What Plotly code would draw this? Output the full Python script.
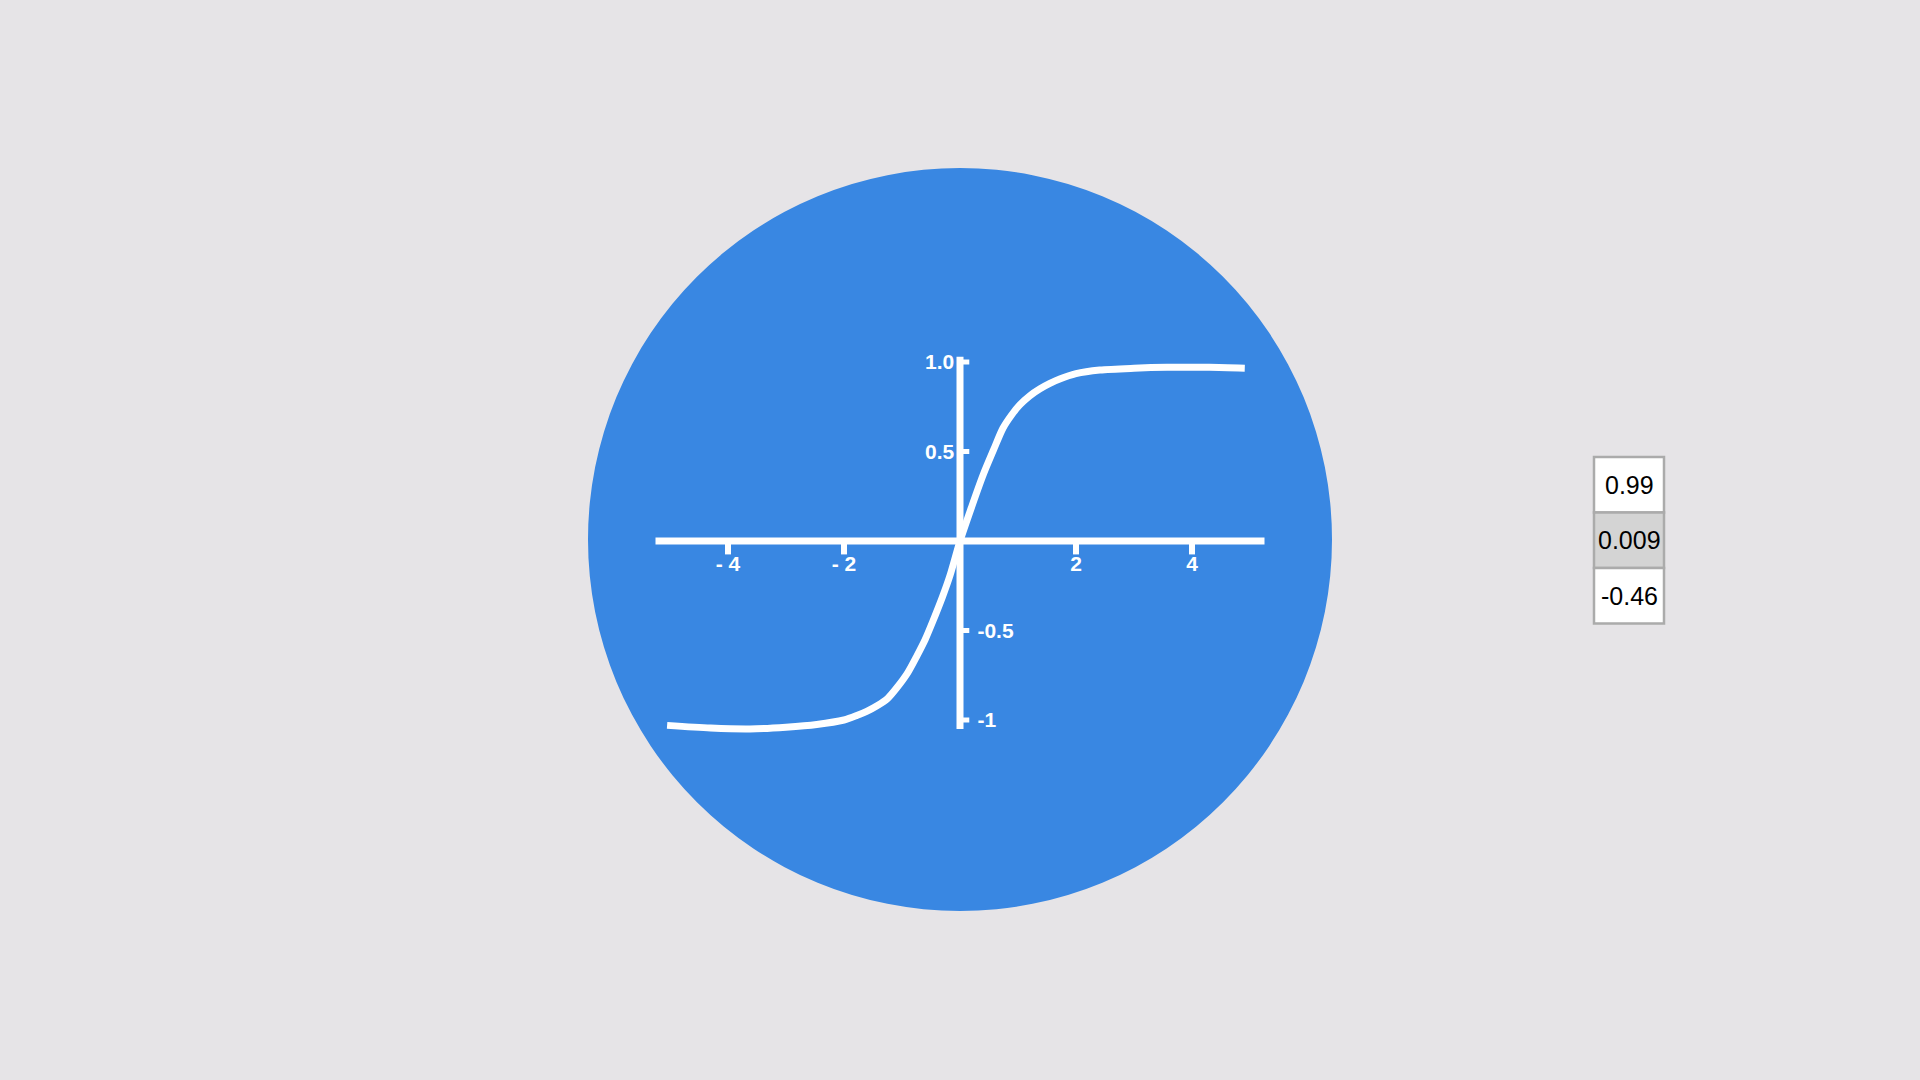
import plotly.graph_objects as go

# curve points
curve_x = [-5.05, -4.3, -3.62, -3.0, -2.47, -2.0, -1.78, -1.6, -1.43, -1.25, -1.09, -0.9,
           -0.74, -0.6, -0.47, -0.3, -0.17, 0.0, 0.2, 0.4, 0.58, 0.74, 0.88, 1.03, 1.2,
           1.38, 1.55, 1.72, 2.0, 2.41, 3.0, 3.57, 4.3, 4.91]
curve_y = [-1.03, -1.045, -1.05, -1.04, -1.025, -1.0, -0.975, -0.95, -0.92, -0.88, -0.82, -0.735,
           -0.64, -0.55, -0.45, -0.31, -0.19, 0.0, 0.19, 0.37, 0.51, 0.63, 0.70, 0.76, 0.81,
           0.85, 0.88, 0.905, 0.935, 0.955, 0.965, 0.97, 0.97, 0.965]

x_ticks = [-4, -2, 2, 4]
x_tick_labels = ["- 4", "- 2", "2", "4"]
y_ticks_left = [1.0, 0.5]
y_labels_left = ["1.0", "0.5"]
y_ticks_right = [-0.5, -1]
y_labels_right = ["-0.5", "-1"]

table_values = ["0.99", "0.009", "-0.46"]
table_fills = ["white", "#d4d4d4", "white"]

BG = "#e6e4e7"
BLUE = "#3987e2"
W = "white"
FONT = "Liberation Sans"
LABEL_FONT = dict(color=W, size=21, family=FONT, weight="bold")

fig = go.Figure()

# axes lines
fig.add_trace(go.Scatter(x=[-5.25, 5.25], y=[0, 0], mode="lines",
                         line=dict(color=W, width=7), hoverinfo="skip"))
fig.add_trace(go.Scatter(x=[0, 0], y=[-1.05, 1.03], mode="lines",
                         line=dict(color=W, width=7), hoverinfo="skip"))

# x ticks
for t in x_ticks:
    fig.add_trace(go.Scatter(x=[t, t], y=[0, -0.075], mode="lines",
                             line=dict(color=W, width=6), hoverinfo="skip"))
# y ticks
for t in y_ticks_left + y_ticks_right:
    fig.add_trace(go.Scatter(x=[0, 0.16], y=[t, t], mode="lines",
                             line=dict(color=W, width=5), hoverinfo="skip"))

# tick labels
fig.add_trace(go.Scatter(x=x_ticks, y=[-0.14] * len(x_ticks), mode="text",
                         text=x_tick_labels, textposition="middle center",
                         textfont=LABEL_FONT, hoverinfo="skip"))
fig.add_trace(go.Scatter(x=[-0.1] * 2, y=[t - 0.012 for t in y_ticks_left], mode="text",
                         text=y_labels_left, textposition="middle left",
                         textfont=LABEL_FONT, hoverinfo="skip"))
fig.add_trace(go.Scatter(x=[0.3] * 2, y=[t - 0.012 for t in y_ticks_right], mode="text",
                         text=y_labels_right, textposition="middle right",
                         textfont=LABEL_FONT, hoverinfo="skip"))

# the curve
fig.add_trace(go.Scatter(x=curve_x, y=curve_y, mode="lines",
                         line=dict(color=W, width=7, shape="spline", smoothing=0.8),
                         hoverinfo="skip"))

shapes = [dict(type="circle", xref="paper", yref="paper",
               x0=588 / 1920, x1=1332 / 1920, y0=1 - 911 / 1080, y1=1 - 168 / 1080,
               fillcolor=BLUE, line=dict(width=0), layer="below")]

# small value table on the right
annotations = []
cell_h = 55.5
top = 457
for i, (v, fc) in enumerate(zip(table_values, table_fills)):
    y0 = top + i * cell_h
    shapes.append(dict(type="rect", xref="paper", yref="paper",
                       x0=1594 / 1920, x1=1664 / 1920,
                       y0=1 - (y0 + cell_h) / 1080, y1=1 - y0 / 1080,
                       fillcolor=fc, line=dict(color="#ababab", width=2.5), layer="below"))
    annotations.append(dict(xref="paper", yref="paper", x=1629 / 1920,
                            y=1 - (y0 + cell_h / 2) / 1080, text=v, showarrow=False,
                            font=dict(color="black", size=25, family=FONT),
                            xanchor="center", yanchor="middle"))

fig.update_layout(
    width=1920, height=1080,
    margin=dict(l=0, r=0, t=0, b=0),
    paper_bgcolor=BG, plot_bgcolor=BG,
    showlegend=False,
    shapes=shapes, annotations=annotations,
    xaxis=dict(range=[-960 / 58, 960 / 58], visible=False, fixedrange=True),
    yaxis=dict(range=[(541 - 1080) / 179, 541 / 179], visible=False, fixedrange=True),
)

fig.write_html("out.html", config=dict(displayModeBar=False))

# drop the default page margin so the figure sits flush in the window
with open("out.html", encoding="utf-8") as f:
    html = f.read()
html = html.replace("<head>", "<head><style>html,body{margin:0;padding:0;overflow:hidden;background:%s}</style>" % BG, 1)
with open("out.html", "w", encoding="utf-8") as f:
    f.write(html)
